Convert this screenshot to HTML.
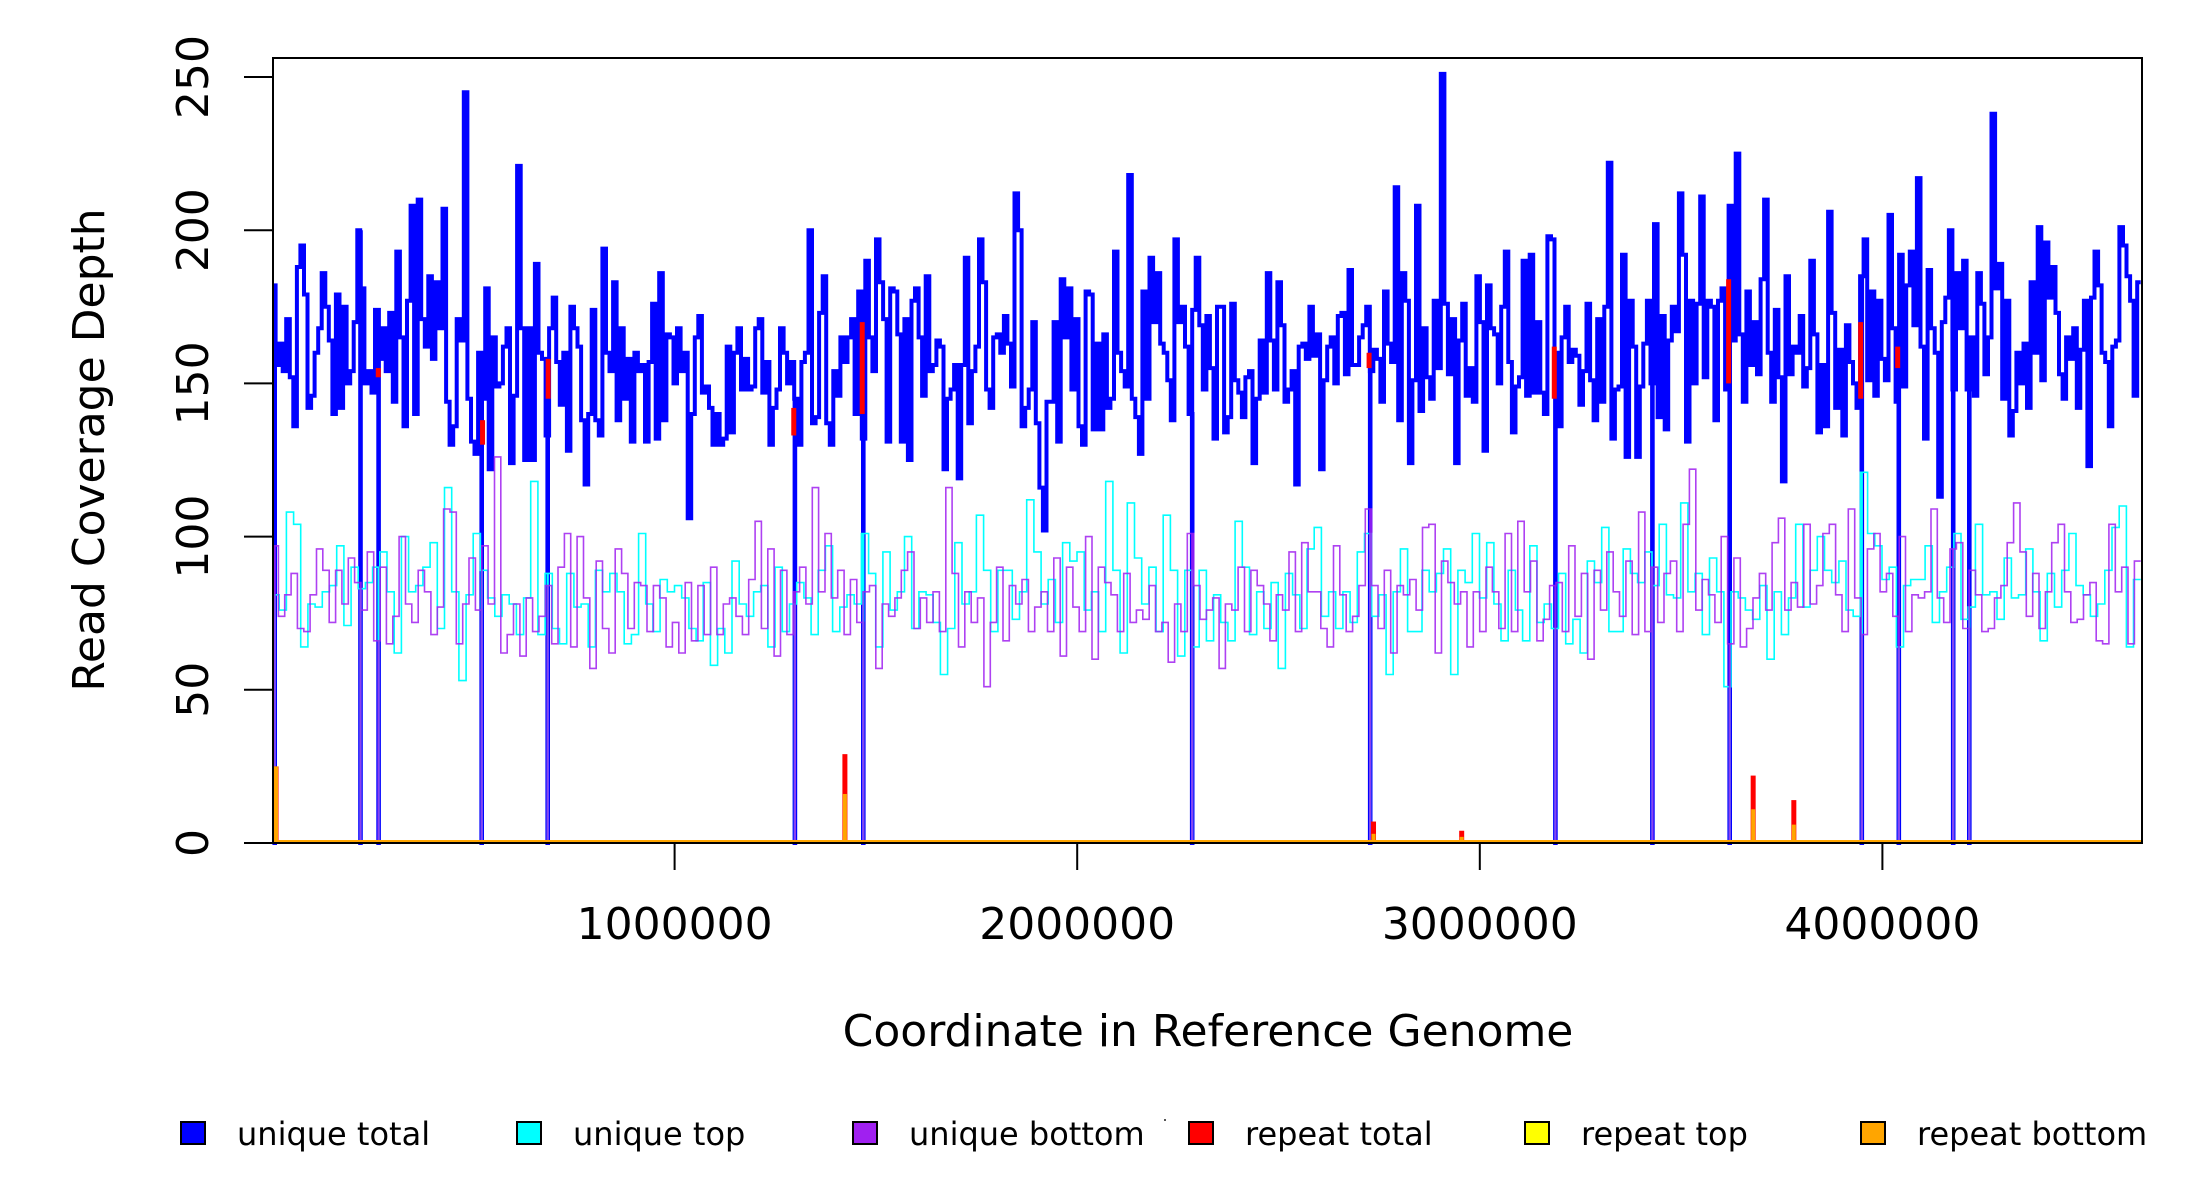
<!DOCTYPE html>
<html><head><meta charset="utf-8"><style>
html,body{margin:0;padding:0;background:#fff;}
svg{display:block;font-family:"DejaVu Sans","Liberation Sans",sans-serif;}
</style></head><body>
<svg id="chart" width="2200" height="1200" viewBox="0 0 2200 1200" xmlns="http://www.w3.org/2000/svg">
<rect x="0" y="0" width="2200" height="1200" fill="#fff"/>
<g id="series"></g>
<rect x="273" y="58" width="1869" height="785" fill="none" stroke="#000" stroke-width="2"/>
<g id="axes"></g>
<text x="1208" y="1046" font-size="44" text-anchor="middle">Coordinate in Reference Genome</text>
<text transform="translate(104,450) rotate(-90)" font-size="44" text-anchor="middle">Read Coverage Depth</text>
<g id="legend"></g>
<rect x="1164" y="1119" width="2" height="2" fill="#555"/>
</svg>
<script>
const genomeLength = 4641652;
const xTicks = [1000000, 2000000, 3000000, 4000000];
const xTickLabels = ["1000000", "2000000", "3000000", "4000000"];
const yTicks = [0, 50, 100, 150, 200, 250];
const yTickLabels = ["0", "50", "100", "150", "200", "250"];
const uniqueTotal = [182,156,163,154,171,152,136,188,195,179,142,146,160,168,186,175,164,140,179,142,175,150,154,170,200,181,150,154,147,174,158,168,154,173,144,193,165,136,177,208,140,210,171,162,185,158,183,168,207,144,130,136,171,164,245,145,131,127,160,145,181,122,165,149,150,162,168,124,146,221,168,125,168,125,189,160,158,133,168,178,157,143,160,128,175,168,162,138,117,140,174,138,133,194,160,154,183,138,168,145,158,131,160,154,156,131,157,176,132,186,138,166,165,150,168,154,160,106,140,165,172,147,149,142,130,
140,130,132,162,134,160,168,148,158,148,149,168,171,147,157,130,142,148,168,160,150,157,145,130,157,160,200,137,139,173,185,137,130,154,146,165,157,165,171,140,180,132,190,165,154,197,183,171,131,181,180,166,131,171,125,177,181,165,146,185,154,156,164,162,122,145,148,156,119,156,191,137,154,162,197,183,148,142,165,166,160,172,163,149,212,200,136,142,148,170,137,116,102,144,144,170,131,184,165,181,148,171,136,130,180,179,135,163,135,166,142,145,193,160,154,149,218,145,139,127,180,145,191,170,186,163,160,151,138,197,170,175,162,140,174,191,169,148,172,155,132,175,
175,134,139,176,151,147,139,152,154,124,145,164,147,186,164,148,183,169,144,148,154,117,162,163,158,175,159,166,122,151,162,165,150,172,173,153,187,156,156,165,169,175,154,161,158,144,180,163,157,214,138,186,177,124,151,208,141,168,152,145,177,155,251,176,153,171,124,164,176,146,155,144,185,170,128,182,168,166,150,175,193,157,134,149,152,190,146,192,147,170,147,140,198,197,160,136,165,175,157,161,159,143,154,176,151,138,171,144,175,222,132,148,149,192,126,177,162,126,149,163,177,150,202,139,172,135,164,175,167,212,192,131,177,150,176,211,152,177,175,138,
177,181,148,208,164,225,166,144,180,156,170,153,184,210,160,144,174,152,118,185,153,162,160,172,149,155,190,166,134,156,136,206,173,142,161,133,169,157,150,142,185,197,151,180,146,177,158,151,205,168,144,192,149,182,193,169,217,162,132,187,168,160,113,170,178,200,148,186,168,190,148,165,146,186,176,153,165,238,181,189,145,177,133,141,160,150,163,142,183,160,201,151,196,178,188,173,153,145,165,158,168,142,161,177,123,178,193,182,160,157,136,162,164,201,195,185,177,146,183];
const uniqueTop = [81,76,108,104,64,78,77,82,84,97,71,90,83,85,90,95,82,62,100,82,84,90,98,70,116,82,53,81,101,89,80,74,81,78,68,80,118,68,88,70,65,88,77,78,64,89,82,88,82,65,68,101,78,69,86,82,84,80,70,66,85,58,
70,62,92,78,74,82,84,64,90,69,78,85,80,68,89,97,69,77,81,78,101,88,64,95,76,82,100,70,82,81,72,55,70,98,78,82,107,89,69,89,89,73,82,112,95,78,86,72,98,92,95,76,82,69,118,89,62,111,93,78,90,69,107,89,61,89,
64,89,66,81,72,66,105,90,68,82,70,85,57,88,81,70,96,103,74,82,70,82,72,95,101,74,81,55,82,96,69,69,89,82,88,96,55,89,85,101,80,98,78,66,89,76,66,97,72,78,70,88,65,73,62,92,85,103,69,69,96,88,
85,95,84,104,81,80,111,82,88,68,93,82,51,82,80,76,73,84,60,82,68,80,104,77,89,100,89,85,92,76,74,121,101,97,86,90,64,84,86,86,97,72,82,90,101,73,77,104,81,82,73,93,80,81,96,82,66,88,77,89,101,84,81,74,78,89,103,110,64,86];
const uniqueBottom = [97,74,81,88,70,69,81,96,89,72,89,78,93,85,76,95,66,90,65,74,100,78,72,89,82,68,77,109,108,65,78,93,76,97,78,126,62,68,78,61,80,69,74,84,65,90,101,64,100,80,57,92,70,62,96,88,70,85,84,69,84,80,64,
72,62,85,66,84,68,90,68,78,80,74,68,86,105,70,96,61,89,68,82,90,78,116,82,101,80,89,68,86,72,82,84,57,78,74,80,89,95,70,80,72,82,69,116,88,64,82,72,80,51,72,90,66,84,78,86,69,77,82,69,93,61,90,77,69,100,60,90,85,81,69,88,72,76,
73,84,69,72,59,78,69,101,84,73,76,80,57,78,76,90,69,89,84,78,66,81,76,95,69,98,82,82,70,64,97,81,69,74,84,109,84,70,89,62,84,81,86,76,103,104,62,92,85,78,82,64,82,69,90,82,70,101,69,105,82,92,66,73,84,85,69,97,74,88,60,89,76,95,82,74,92,68,108,69,90,72,88,
92,69,104,122,76,86,81,72,100,65,93,64,70,80,88,76,98,106,76,85,77,104,78,84,101,104,81,69,109,80,68,96,101,82,88,74,100,69,81,80,82,109,80,72,96,98,70,89,81,69,70,80,84,98,111,95,74,88,70,82,98,104,82,72,73,81,85,66,65,104,82,90,65,92];
const dropoutPositions = [6000,219000,264000,520000,684000,1298000,1468000,2285000,2727000,3187000,3428000,3620000,3948000,4040000,4175000,4215000];
const repeatTotalPos = [10000,1423000,2736000,2955000,3679000,3780000,264000,523000,686000,1296000,1466000,2725000,3185000,3618000,3946000,4038000];
const repeatTotalLo = [0,0,0,0,0,0,152,130,145,133,140,155,145,150,145,155];
const repeatTotalHi = [25,29,7,4,22,14,155,138,158,142,170,160,162,184,170,162];
const repeatBottomPos = [10000,1423000,2736000,2955000,3679000,3780000];
const repeatBottomVal = [25,16,3,2,11,6];

const NS = "http://www.w3.org/2000/svg";
const X0 = 272, XPX = 402.6e-6, Y0 = 843, YPX = 3.064;
function xS(v){ return X0 + v * XPX; }
function yS(v){ return Y0 - v * YPX; }
function mk(tag, attrs, parent){ const e = document.createElementNS(NS, tag); for (const k in attrs) e.setAttribute(k, attrs[k]); parent.appendChild(e); return e; }

function stepPath(vals){
  const bw = genomeLength / vals.length;
  const dw = 1500;
  let d = "M" + xS(0).toFixed(1) + " " + yS(vals[0]).toFixed(1);
  for (let i = 0; i < vals.length; i++){
    const a = i * bw, b = (i + 1) * bw;
    if (i > 0) d += " V" + yS(vals[i]).toFixed(1);
    for (const p of dropoutPositions){
      if (p >= a && p < b){
        d += " H" + xS(p).toFixed(1) + " V" + yS(0).toFixed(1) + " H" + xS(p + dw).toFixed(1) + " V" + yS(vals[i]).toFixed(1);
      }
    }
    d += " H" + xS(b).toFixed(1);
  }
  return d;
}

const series = document.getElementById("series");
const pBlue = mk("path", {d: stepPath(uniqueTotal), fill: "none", stroke: "#0000ff", "stroke-width": 4, "stroke-linejoin": "miter"}, series);


const pCyan = mk("path", {d: stepPath(uniqueTop), fill: "none", stroke: "#00ffff", "stroke-width": 1.6}, series);


const pPurple = mk("path", {d: stepPath(uniqueBottom), fill: "none", stroke: "#a020f0", "stroke-width": 1.6, "stroke-opacity": 0.85}, series);



for (let i = 0; i < repeatTotalPos.length; i++){
  const r = mk("rect", {x: xS(repeatTotalPos[i]) - 2.5, y: yS(repeatTotalHi[i]), width: 5, height: (repeatTotalHi[i] - repeatTotalLo[i]) * YPX, fill: "#ff0000"}, series);
  
  
}
const base = mk("line", {x1: xS(0), x2: 2142, y1: Y0 - 1, y2: Y0 - 1, stroke: "#ffa500", "stroke-width": 4}, series);


for (let i = 0; i < repeatBottomPos.length; i++){
  const r = mk("rect", {x: xS(repeatBottomPos[i]) - 2, y: yS(repeatBottomVal[i]), width: 4, height: repeatBottomVal[i] * YPX, fill: "#ffa500"}, series);
  
  
}

const axes = document.getElementById("axes");
for (let i = 0; i < xTicks.length; i++){
  const t = mk("line", {x1: xS(xTicks[i]), x2: xS(xTicks[i]), y1: Y0, y2: Y0 + 27, stroke: "#000", "stroke-width": 2}, axes);
  
  
  const l = mk("text", {x: xS(xTicks[i]), y: 939, "font-size": 44, "text-anchor": "middle"}, axes);
  l.textContent = xTickLabels[i];
  
  
}
for (let i = 0; i < yTicks.length; i++){
  const y = yS(yTicks[i]);
  const t = mk("line", {x1: 244, x2: 273, y1: y, y2: y, stroke: "#000", "stroke-width": 2}, axes);
  
  
  const l = mk("text", {transform: "translate(208," + y + ") rotate(-90)", "font-size": 44, "text-anchor": "middle"}, axes);
  l.textContent = yTickLabels[i];
  
  
}

const legendNames = ["unique total", "unique top", "unique bottom", "repeat total", "repeat top", "repeat bottom"];
const legendColors = ["#0000ff", "#00ffff", "#a020f0", "#ff0000", "#ffff00", "#ffa500"];
const legend = document.getElementById("legend");
for (let i = 0; i < legendNames.length; i++){
  const lx = 181 + i * 336;
  const g = mk("g", {}, legend);
  
  
  mk("rect", {x: lx, y: 1122, width: 24, height: 22, fill: legendColors[i], stroke: "#000", "stroke-width": 2}, g);
  const t = mk("text", {x: lx + 56, y: 1145, "font-size": 32}, g);
  t.textContent = legendNames[i];
}
</script>
</body></html>
